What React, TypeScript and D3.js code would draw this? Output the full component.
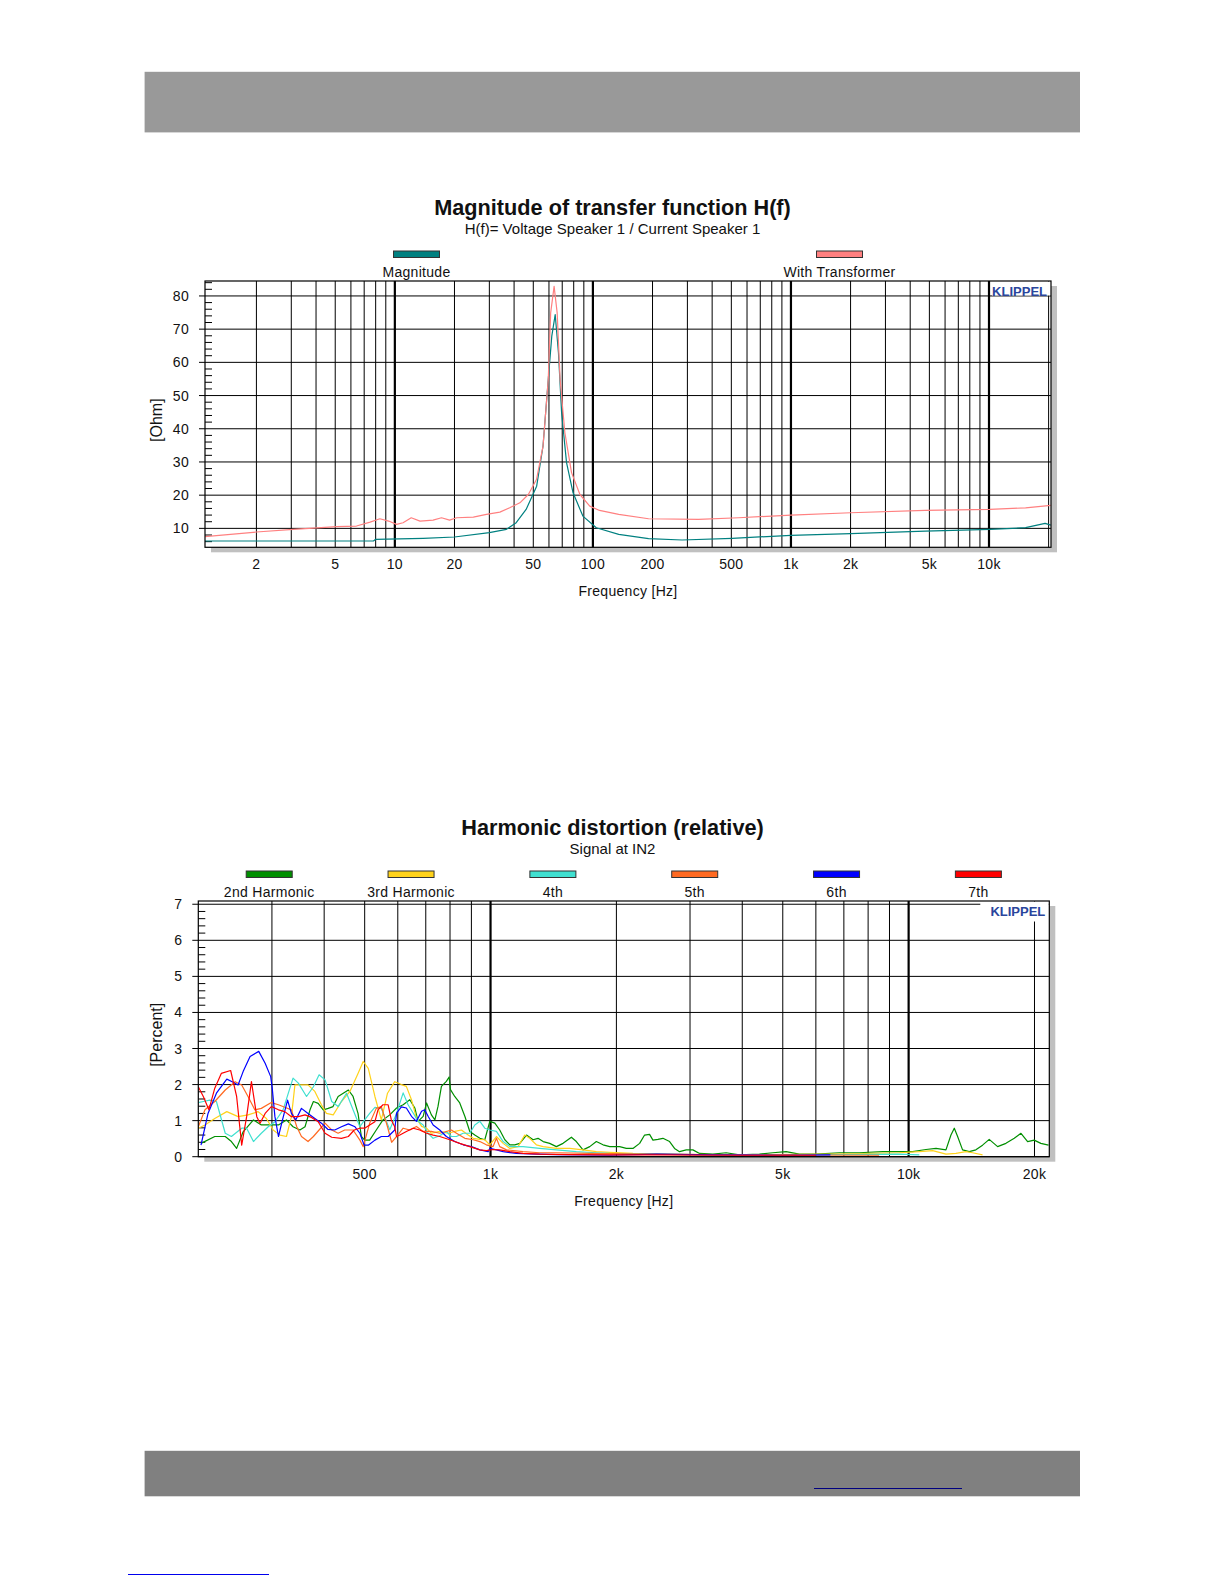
import * as d3 from "d3";

const FONT = '"Liberation Sans", Arial, Helvetica, sans-serif';

// ── Impedance chart data (Hz / Ohm) ────────────────────────────────────────
const magFreq = [1.1, 7.8, 8.0, 13.9, 20, 30, 36.6, 41, 46, 52, 56, 59.5, 62, 64.5, 67, 69.5, 73.6, 79.4, 89, 104, 135, 191, 282, 504, 1000, 2000, 4760, 10100, 15300, 19200, 20500];
const magOhm = [6.2, 6.2, 6.7, 7.0, 7.4, 8.7, 9.7, 11.7, 15.7, 22.7, 34.8, 54.8, 67.9, 74.4, 62.9, 44.8, 29.8, 20.7, 13.7, 10.2, 8.2, 6.9, 6.5, 7.0, 7.9, 8.4, 9.2, 9.7, 10.2, 11.5, 11.0];

const trafoFreq = [1.1, 2, 3.07, 5.1, 6.4, 7.5, 8.4, 9.3, 10.2, 11, 12.1, 13.4, 15.6, 17.2, 18.9, 20.5, 24.9, 29, 33.9, 38, 42.8, 47.2, 51.9, 56, 59.5, 61.2, 63.7, 66, 68.3, 72.2, 78, 86, 96.4, 108, 135, 191, 341, 545, 1000, 2000, 4760, 10100, 15300, 20500];
const trafoOhm = [7.5, 8.9, 9.7, 10.5, 10.7, 11.9, 12.9, 12.2, 11.2, 11.7, 13.2, 12.2, 12.5, 13.2, 12.5, 13.2, 13.4, 14.2, 14.9, 16.2, 17.7, 20.2, 24.7, 34.8, 54.8, 74.9, 82.9, 74.9, 54.8, 38.8, 26.8, 20.2, 16.7, 15.4, 14.2, 12.9, 12.7, 13.2, 14.0, 14.7, 15.4, 15.7, 16.2, 16.9];

const impXLabels = [2, 5, 10, 20, 50, 100, 200, 500, 1000, 2000, 5000, 10000];
const impYTicks = [10, 20, 30, 40, 50, 60, 70, 80];

// ── Harmonic distortion data (Hz / %) ──────────────────────────────────────
const h2Freq = [
  203, 219, 232, 240, 247, 256, 271, 283, 297, 311,
  325, 337, 350, 360, 370, 377, 387, 398, 409, 420,
  432, 457, 469, 482, 491, 500, 514, 533, 553, 574,
  596, 618, 641, 659, 671, 690, 703, 722, 736, 749,
  763, 784, 796, 802, 821, 844, 868, 892, 917, 943,
  969, 996, 1024, 1052, 1082, 1112, 1143, 1175, 1219, 1264,
  1299, 1336, 1385, 1437, 1491, 1561, 1604, 1664, 1727, 1791,
  1858, 1928, 2036, 2112, 2191, 2273, 2336, 2401, 2446, 2514,
  2584, 2681, 2755, 2832, 2938, 3048, 3162, 3402, 3661, 3939,
  4397, 4731, 5092, 5479, 6006, 6828, 7623, 8670, 9502, 10223,
  11003, 11626, 12283, 12625, 12859, 13097, 13460, 13963, 14484, 15025,
  15587, 16324, 17090, 17892, 18565, 19258, 19967, 20712, 21604,
];
const h2Pct = [
  0.37, 0.56, 0.56, 0.42, 0.23, 0.69, 1.02, 0.88, 0.88, 0.88,
  1.02, 0.83, 0.74, 0.83, 1.3, 1.53, 1.48, 1.3, 1.34, 1.39,
  1.67, 1.85, 1.67, 1.2, 0.56, 0.46, 0.46, 0.74, 1.02, 1.16,
  1.35, 1.44, 1.58, 1.35, 0.98, 1.12, 1.49, 1.16, 1.02, 1.4,
  1.95, 2.09, 2.21, 1.86, 1.67, 1.49, 1.12, 0.7, 0.6, 0.51,
  0.47, 0.98, 0.93, 0.74, 0.47, 0.33, 0.33, 0.37, 0.6, 0.47,
  0.51, 0.42, 0.37, 0.28, 0.37, 0.54, 0.42, 0.19, 0.28, 0.42,
  0.33, 0.28, 0.28, 0.23, 0.23, 0.37, 0.6, 0.62, 0.46, 0.48,
  0.51, 0.42, 0.23, 0.14, 0.19, 0.19, 0.09, 0.07, 0.11, 0.05,
  0.07, 0.11, 0.14, 0.07, 0.07, 0.11, 0.11, 0.14, 0.14, 0.14,
  0.2, 0.23, 0.19, 0.6, 0.79, 0.56, 0.19, 0.14, 0.19, 0.32,
  0.48, 0.28, 0.37, 0.51, 0.65, 0.42, 0.46, 0.37, 0.32,
];

const h3Freq = [
  200, 207.5, 219, 234, 249, 263, 278, 291, 302, 313.5,
  325, 334, 340.5, 353, 366, 380, 394, 405, 420.5, 440,
  461, 482, 496, 510, 529, 548, 567, 590, 612, 629,
  647, 665, 684, 703, 722, 756, 792, 821, 852, 884,
  909, 943, 969, 996, 1033, 1072, 1112, 1164, 1207, 1241,
  1287, 1336, 1437, 1547, 1664, 1791, 1928, 2191, 2656, 3798,
  6581, 9502, 10607, 11415, 12283, 12978, 13709, 14221, 15025,
];
const h3Pct = [
  0.79, 0.88, 1.06, 1.25, 1.11, 1.16, 1.25, 1.06, 0.74, 0.6,
  0.56, 1.11, 1.99, 1.99, 1.99, 1.81, 1.44, 1.2, 1.16, 1.53,
  1.81, 2.31, 2.64, 2.45, 1.67, 1.02, 1.76, 2.08, 2.0, 1.95,
  1.58, 1.07, 0.84, 0.79, 0.65, 0.7, 0.65, 0.7, 0.74, 0.6,
  0.51, 0.48, 0.47, 0.33, 0.56, 0.37, 0.23, 0.28, 0.6, 0.51,
  0.33, 0.28, 0.23, 0.23, 0.19, 0.14, 0.12, 0.09, 0.07, 0.05,
  0.07, 0.11, 0.14, 0.17, 0.07, 0.09, 0.14, 0.11, 0.05,
];

const h4Freq = [
  200, 205.6, 213, 221, 232, 240, 254, 261, 271, 283,
  294, 305, 319, 337, 347, 363, 377, 389, 402, 417,
  432, 452.5, 469, 487, 500, 514, 529, 548, 574, 596,
  618, 635, 653, 671, 690, 709, 729, 756, 784, 806,
  829, 860, 892, 917, 943, 969, 996, 1033, 1072, 1112,
  1196, 1311, 1437, 1604, 1791, 1928, 3162, 5479, 9502, 10607,
];
const h4Pct = [
  1.5, 1.53, 1.57, 1.53, 0.65, 0.56, 0.79, 0.79, 0.42, 0.65,
  0.83, 0.97, 1.3, 2.18, 2.04, 1.67, 1.94, 2.27, 2.13, 1.53,
  1.39, 1.76, 1.3, 0.83, 1.02, 1.2, 1.37, 1.34, 0.75, 1.2,
  1.77, 1.44, 1.21, 0.98, 0.88, 0.65, 0.51, 0.58, 0.7, 0.56,
  0.56, 0.65, 0.65, 0.88, 0.98, 0.79, 0.74, 0.7, 0.42, 0.28,
  0.28, 0.23, 0.19, 0.14, 0.11, 0.09, 0.05, 0.05, 0.07, 0.05,
];

const h5Freq = [
  200, 207.5, 219, 232, 245, 254, 263, 273, 283, 299,
  311, 322, 334, 344, 353, 366, 377, 389, 402, 417,
  432, 448, 469, 487, 496, 514, 533, 548, 567, 580,
  596, 618, 641, 665, 690, 722, 756, 784, 806, 829,
  868, 909, 943, 977, 1014, 1033, 1052, 1092, 1196, 1311,
  1437, 1727, 3000, 5000, 8500,
];
const h5Pct = [
  0.83, 1.3, 1.53, 1.85, 2.08, 1.99, 1.67, 1.3, 1.34, 1.5,
  1.44, 1.37, 1.3, 0.83, 0.56, 0.42, 0.56, 0.74, 0.93, 0.74,
  0.65, 0.74, 0.74, 0.46, 0.28, 0.93, 1.34, 1.39, 0.83, 0.4,
  0.56, 0.79, 0.74, 0.84, 0.7, 0.7, 0.65, 0.7, 0.74, 0.65,
  0.51, 0.47, 0.42, 0.33, 0.28, 0.51, 0.28, 0.19, 0.14, 0.11,
  0.11, 0.09, 0.06, 0.05, 0.04,
];

const h6Freq = [
  203, 211, 221, 234, 241, 249, 256, 266, 279, 289,
  298, 300.5, 305, 311, 318, 327, 334, 342, 353, 366,
  380, 394, 408, 424, 440, 457, 474, 487, 498.5, 510,
  529, 548, 569, 590, 596, 612, 629, 647, 665, 684,
  696, 709, 729, 756, 784, 821, 860, 900, 943, 987,
  996, 1033, 1072, 1153, 1287, 1437, 1928, 2500, 3500, 5000,
  6500,
];
const h6Pct = [
  0.32, 1.2, 1.76, 2.15, 2.08, 1.99, 2.36, 2.78, 2.92, 2.59,
  2.22, 1.9, 1.11, 0.56, 1.02, 1.57, 1.2, 1.02, 1.34, 1.2,
  1.06, 0.93, 0.76, 0.74, 0.83, 0.91, 0.83, 0.65, 0.32, 0.32,
  0.46, 0.56, 0.56, 0.74, 1.21, 1.38, 1.35, 1.12, 0.98, 1.26,
  1.3, 1.12, 0.88, 0.74, 0.56, 0.42, 0.33, 0.28, 0.19, 0.14,
  0.23, 0.19, 0.14, 0.09, 0.07, 0.06, 0.04, 0.07, 0.05, 0.04,
  0.05,
];

const h7Freq = [
  200, 205.6, 212, 219, 227, 239, 247, 254, 261, 268,
  276, 281, 289, 299, 311, 322, 334, 347, 360, 373,
  387, 402, 417, 440, 457, 472, 487, 500, 514, 529,
  538, 553, 569, 579, 590, 596, 607, 629, 653, 677,
  703, 729, 756, 799, 844, 892, 943, 977, 1014, 1052,
  1112, 1196, 1311, 1547, 1928, 2500, 4000, 6000,
];
const h7Pct = [
  1.94, 1.67, 1.3, 1.9, 2.31, 2.39, 1.67, 0.32, 1.11, 2.08,
  1.11, 0.93, 1.2, 1.39, 1.3, 1.25, 1.11, 1.11, 1.16, 1.09,
  0.97, 0.65, 0.54, 0.51, 0.56, 0.74, 0.79, 0.79, 0.88, 0.97,
  1.3, 1.44, 1.44, 1.02, 0.83, 0.56, 0.6, 0.7, 0.79, 0.74,
  0.65, 0.6, 0.56, 0.47, 0.37, 0.28, 0.19, 0.17, 0.2, 0.19,
  0.14, 0.09, 0.07, 0.06, 0.05, 0.05, 0.04, 0.04,
];

const thdXLabels = [500, 1000, 2000, 5000, 10000, 20000];
const thdYTicks = [0, 1, 2, 3, 4, 5, 6, 7];

interface Series {
  name: string;
  color: string;
  freq: number[];
  vals: number[];
}

interface ChartProps {
  id: string;
  left: number;
  top: number;
  right: number;
  bottom: number;
  xDomain: [number, number];
  yDomain: [number, number];
  yTicks: number[];
  yMinor: number;
  xLabels: number[];
  series: Series[];
  title: string;
  subtitle: string;
  yTitle: string;
  logo: [number, number];
}

const fmtHz = (v: number) => (v >= 1000 ? `${v / 1000}k` : `${v}`);

// shared label look (old Windows sans is a bit wider than Arial)
const LBL = { fontSize: 14, fill: "#111", letterSpacing: 0.3 };

const Chart = (p: ChartProps) => {
  const x = d3.scaleLog().domain(p.xDomain).range([p.left, p.right]);
  const y = d3.scaleLinear().domain(p.yDomain).range([p.bottom, p.top]);
  const w = p.right - p.left;
  const h = p.bottom - p.top;
  const midX = (p.left + p.right) / 2;
  const midY = (p.top + p.bottom) / 2;

  const xGrid = x.ticks().filter((v) => x(v) > p.left + 1 && x(v) < p.right - 1);
  const minor = d3
    .range(Math.ceil(p.yDomain[0] / p.yMinor), Math.floor(p.yDomain[1] / p.yMinor) + 1)
    .map((k) => k * p.yMinor)
    .filter((v) => !p.yTicks.some((t) => Math.abs(t - v) < 1e-6));

  const line = (s: Series) =>
    d3
      .line<number>()
      .x((_, i) => x(s.freq[i]))
      .y((v) => y(v))(s.vals) ?? "";

  return (
    <g>
      {/* titles */}
      <text x={612.5} y={p.top - 66} textAnchor="middle" fontSize={21.7} fontWeight="bold" fill="#111">
        {p.title}
      </text>
      <text x={612.5} y={p.top - 47} textAnchor="middle" fontSize={15} fill="#111">
        {p.subtitle}
      </text>

      {/* legend */}
      {p.series.map((s, i) => {
        const cx = p.left + (w * (i + 0.5)) / p.series.length;
        return (
          <g key={s.name}>
            <rect x={cx - 23} y={p.top - 30} width={46} height={6.5} fill={s.color} stroke="#333" strokeWidth={1} />
            <text x={cx} y={p.top - 4.5} textAnchor="middle" {...LBL}>
              {s.name}
            </text>
          </g>
        );
      })}

      {/* frame + shadow */}
      <rect x={p.left + 6} y={p.top + 5} width={w} height={h} fill="#c0c0c0" />
      <rect x={p.left} y={p.top} width={w} height={h} fill="#fff" />

      {/* grid */}
      {xGrid.map((v) => {
        const major = Math.abs(Math.log10(v) - Math.round(Math.log10(v))) < 1e-9;
        return (
          <line key={`gx${v}`} x1={x(v)} x2={x(v)} y1={p.top} y2={p.bottom} stroke="#000" strokeWidth={major ? 2.2 : 1} />
        );
      })}
      {p.yTicks.map((v) => (
        <line key={`gy${v}`} x1={p.left - 6} x2={p.right} y1={y(v)} y2={y(v)} stroke="#000" strokeWidth={1} />
      ))}
      {minor.map((v) => (
        <line key={`my${v}`} x1={p.left} x2={p.left + 7} y1={y(v)} y2={y(v)} stroke="#000" strokeWidth={1} />
      ))}

      {/* logo box */}
      <rect x={p.right - p.logo[0]} y={p.top + 0.5} width={p.logo[0] - 0.5} height={p.logo[1]} fill="#fff" />
      <text x={p.right - 4} y={p.top + 15} textAnchor="end" fontSize={13} fontWeight="bold" fill="#2a459c">
        KLIPPEL
      </text>

      {/* curves */}
      <defs>
        <clipPath id={p.id}>
          <rect x={p.left} y={p.top} width={w} height={h} />
        </clipPath>
      </defs>
      <g clipPath={`url(#${p.id})`}>
        {p.series.map((s) => (
          <path key={s.name} d={line(s)} fill="none" stroke={s.color} strokeWidth={1.2} strokeLinejoin="round" />
        ))}
      </g>

      <rect x={p.left} y={p.top} width={w} height={h} fill="none" stroke="#000" strokeWidth={1.2} />

      {/* tick labels */}
      {p.yTicks.map((v) => (
        <text key={`ly${v}`} x={p.left - 16} y={y(v)} dy="0.36em" textAnchor="end" {...LBL}>
          {v}
        </text>
      ))}
      {p.xLabels.map((v) => (
        <text key={`lx${v}`} x={x(v)} y={p.bottom + 22} textAnchor="middle" {...LBL}>
          {fmtHz(v)}
        </text>
      ))}
      <text x={midX} y={p.bottom + 49} textAnchor="middle" {...LBL}>
        Frequency [Hz]
      </text>
      <text
        transform={`translate(162,${midY + 6}) rotate(-90)`}
        textAnchor="middle"
        fontSize={16}
        fill="#111"
      >
        {p.yTitle}
      </text>
    </g>
  );
};

export default function App() {
  return (
    <svg
      width={1225}
      height={1585}
      style={{ position: "absolute", left: 0, top: 0, background: "#fff" }}
      fontFamily={FONT}
    >
      <rect x={144.6} y={71.8} width={935.4} height={60.6} fill="#999999" />

      <Chart
        id="clipImp"
        left={205}
        top={281}
        right={1051}
        bottom={547.3}
        xDomain={[1.1, 20560]}
        yDomain={[4.3, 84.5]}
        yTicks={impYTicks}
        yMinor={2}
        xLabels={impXLabels}
        title="Magnitude of transfer function H(f)"
        subtitle="H(f)= Voltage Speaker 1 / Current Speaker 1"
        yTitle="[Ohm]"
        logo={[59, 14]}
        series={[
          { name: "Magnitude", color: "#008080", freq: magFreq, vals: magOhm },
          { name: "With Transformer", color: "#ff8080", freq: trafoFreq, vals: trafoOhm },
        ]}
      />

      <Chart
        id="clipThd"
        left={198.3}
        top={901}
        right={1049.3}
        bottom={1156.7}
        xDomain={[200, 21700]}
        yDomain={[0, 7.09]}
        yTicks={thdYTicks}
        yMinor={0.2}
        xLabels={thdXLabels}
        title="Harmonic distortion (relative)"
        subtitle="Signal at IN2"
        yTitle="[Percent]"
        logo={[69, 20]}
        series={[
          { name: "2nd Harmonic", color: "#008f00", freq: h2Freq, vals: h2Pct },
          { name: "3rd Harmonic", color: "#ffd21a", freq: h3Freq, vals: h3Pct },
          { name: "4th", color: "#40e0d0", freq: h4Freq, vals: h4Pct },
          { name: "5th", color: "#ff6a22", freq: h5Freq, vals: h5Pct },
          { name: "6th", color: "#0000ff", freq: h6Freq, vals: h6Pct },
          { name: "7th", color: "#ff0000", freq: h7Freq, vals: h7Pct },
        ]}
      />

      <rect x={144.6} y={1450.8} width={935.4} height={45.5} fill="#808080" />
      <line x1={814} x2={962} y1={1488.5} y2={1488.5} stroke="#000080" strokeWidth={1} />
      <line x1={128} x2={269} y1={1574.5} y2={1574.5} stroke="#0000ee" strokeWidth={1} />
    </svg>
  );
}
